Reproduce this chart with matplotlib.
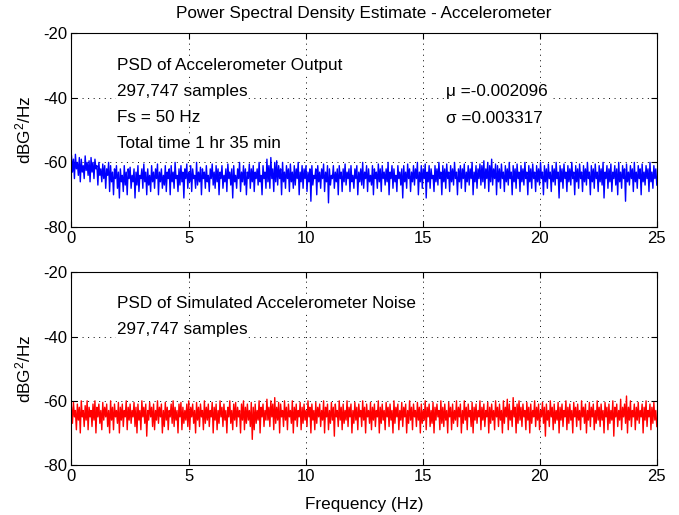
import numpy as np
import matplotlib
matplotlib.use("Agg")
import matplotlib.pyplot as plt

plt.rcParams['font.family'] = ['Liberation Sans', 'DejaVu Sans']
plt.rcParams['axes.unicode_minus'] = False
plt.rcParams['mathtext.fontset'] = 'custom'
plt.rcParams['mathtext.rm'] = 'Liberation Sans'
plt.rcParams['mathtext.it'] = 'Liberation Sans'
plt.rcParams['mathtext.bf'] = 'Liberation Sans'

# Data, dB values across 0-25 Hz
accel_psd = [
    -58, -63, -59, -65, -57.5, -62, -60, -64, -58.5, -66, -59, -63, -61, -65, -58, -62.5, -60, -64, -59.5, -66,
    -58.5, -63, -60, -65, -59, -62, -61, -67, -60, -64, -62, -66, -60.5, -65, -61, -68, -62, -64, -60, -69,
    -61, -66, -63, -70, -62, -65, -61, -68, -63, -71, -62, -66, -64, -69, -61, -67, -63, -70, -62, -65,
    -61.5, -68, -64, -66, -62, -71, -63, -67, -61, -69, -64, -65, -62, -68, -60.5, -66, -63, -70, -62, -67,
    -64, -69, -61, -66, -63, -68, -62, -65, -60.5, -70, -63, -66, -62, -68, -64, -67, -61, -69, -63, -65,
    -62, -70, -61, -66, -63, -68, -60, -65, -64, -69, -62, -67, -61, -66, -63, -71, -62, -65, -60.5, -68,
    -63, -66, -61, -69, -62, -65, -64, -68, -60, -67, -63, -66, -61.5, -70, -62, -65, -63, -68, -61, -66,
    -64, -69, -62, -65, -60.5, -67, -63, -68, -61, -66, -62, -70, -63, -65, -61, -68, -64, -66, -62, -69,
    -60.5, -65, -63, -67, -62, -71, -61, -66, -64, -68, -62, -65, -60, -69, -63, -66, -61, -67, -62, -70,
    -63, -65, -60.5, -68, -62, -66, -61, -69, -63, -65, -62, -67, -60, -66, -64, -70, -61, -65, -63, -68,
    -59, -66, -61, -68, -58.5, -65, -62, -69, -60, -66, -59.5, -67, -61, -65, -62, -70, -60, -66, -63, -68,
    -61, -65, -62, -69, -60.5, -66, -63, -68, -61, -67, -62, -65, -60, -70, -63, -66, -61, -68, -62, -65,
    -61, -69, -63, -66, -62, -72, -61, -67, -64, -65, -62, -70, -61, -66, -63, -68, -62, -65, -60.5, -69,
    -63, -66, -61, -72.5, -62, -67, -64, -65, -61, -68, -63, -66, -62, -70, -61, -65, -63, -69, -62, -66,
    -60.5, -67, -63, -65, -62, -69, -61, -66, -64, -68, -62, -65, -61, -70, -63, -66, -62, -67, -60, -68,
    -63, -65, -61, -69, -62, -66, -64, -67, -61, -70, -62, -65, -63, -68, -60.5, -66, -62, -69, -61, -65,
    -63, -67, -62, -66, -60, -70, -63, -65, -61, -68, -62, -66, -64, -69, -61, -65, -63, -67, -62, -71,
    -61, -66, -63, -68, -60.5, -65, -62, -69, -63, -66, -61, -67, -62, -65, -60, -70, -63, -66, -61, -68,
    -62, -65, -60.5, -71, -63, -66, -61, -68, -62, -65, -64, -69, -61, -66, -62, -67, -60, -65, -63, -70,
    -61, -66, -62, -68, -60.5, -65, -63, -69, -61, -66, -62, -67, -60, -65, -63, -70, -62, -66, -61, -68,
    -62, -65, -60.5, -69, -63, -66, -61, -67, -62, -65, -60, -70, -63, -66, -61, -68, -62, -65, -60.5, -67,
    -61, -66, -59.5, -68, -62, -65, -60, -69, -61, -66, -59, -67, -62, -65, -60.5, -70, -61, -66, -62, -68,
    -60.5, -65, -63, -69, -61, -66, -62, -67, -60, -65, -63, -70, -61, -66, -62, -68, -60.5, -65, -63, -69,
    -61, -66, -62, -67, -60, -65, -63, -70, -61, -66, -62, -68, -60.5, -65, -63, -69, -61, -66, -62, -67,
    -60, -65, -63, -70, -61, -66, -62, -68, -60.5, -65, -63, -69, -61, -66, -62, -67, -60, -65, -63, -71,
    -61, -66, -62, -68, -60.5, -65, -63, -69, -61, -66, -62, -67, -60, -65, -63, -70, -61, -66, -62, -68,
    -60.5, -65, -63, -69, -61, -66, -62, -67, -60, -65, -63, -70, -61, -66, -62, -68, -60.5, -65, -63, -69,
    -61, -66, -62, -67, -60, -71, -63, -65, -61, -68, -62, -66, -60.5, -69, -63, -65, -61, -67, -62, -70,
    -60, -66, -63, -68, -61, -65, -62, -72, -60.5, -66, -63, -67, -61, -65, -62, -69, -60, -66, -63, -68,
    -61, -65, -62, -70, -60.5, -66, -63, -67, -61, -65, -62, -69, -60, -66, -63, -68, -61, -65, -62, -67,
]

noise_psd = [
    -62, -67, -60.5, -65, -63, -69, -61, -66, -62, -70, -60, -65, -63, -68, -61.5, -66, -60, -69, -62, -65,
    -63, -68, -61, -66, -60, -70, -62, -65, -61, -67, -63, -69, -60.5, -66, -62, -65, -61, -68, -63, -70,
    -60, -66, -62, -69, -61, -65, -63, -67, -60.5, -70, -62, -66, -61, -68, -63, -65, -60, -69, -62, -66,
    -61, -67, -63, -65, -60.5, -68, -62, -70, -61, -66, -63, -69, -60, -65, -62, -67, -61, -71, -63, -66,
    -60.5, -65, -62, -68, -61, -69, -63, -66, -60, -67, -62, -65, -61, -70, -63, -68, -60.5, -66, -62, -69,
    -63, -65, -61, -67, -60, -68, -62, -66, -63, -70, -61, -65, -60.5, -69, -62, -67, -63, -66, -61, -68,
    -60, -69, -62, -65, -61, -67, -63, -70, -60.5, -66, -62, -68, -61, -65, -63, -69, -60, -67, -62, -66,
    -61, -68, -63, -65, -60.5, -70, -62, -66, -61, -69, -63, -67, -60, -65, -62, -68, -61, -66, -63, -70,
    -62, -65, -60, -67, -63, -69, -61, -66, -60.5, -68, -62, -65, -63, -70, -61, -66, -60, -69, -62, -67,
    -61, -66, -63, -68, -60.5, -72, -62, -69, -61, -67, -63, -66, -60, -70, -62, -65, -61, -68, -63, -66,
    -59.5, -66, -62, -68, -60, -65, -61, -69, -59, -67, -62, -66, -60.5, -70, -61, -65, -63, -68, -60, -66,
    -62, -69, -61, -65, -63, -67, -60, -70, -62, -66, -61, -68, -63, -65, -60.5, -69, -62, -67, -61, -66,
    -63, -68, -60, -65, -62, -70, -61, -66, -63, -69, -60.5, -67, -62, -65, -61, -68, -63, -66, -60, -70,
    -62, -65, -61, -69, -63, -67, -60.5, -66, -62, -71, -61, -65, -63, -68, -60, -66, -62, -69, -61, -67,
    -63, -66, -60, -68, -62, -65, -61, -70, -63, -67, -60.5, -66, -62, -69, -61, -65, -63, -68, -60, -66,
    -62, -70, -61, -65, -63, -67, -60.5, -69, -62, -66, -61, -68, -63, -65, -60, -70, -62, -67, -61, -66,
    -63, -69, -60.5, -65, -62, -68, -61, -66, -63, -70, -60, -67, -62, -65, -61, -69, -63, -66, -60.5, -68,
    -62, -65, -61, -70, -63, -67, -60, -66, -62, -69, -61, -65, -63, -68, -60.5, -66, -62, -70, -61, -67,
    -63, -66, -60, -69, -62, -65, -61, -68, -63, -67, -60.5, -70, -62, -66, -61, -65, -63, -69, -60, -67,
    -62, -68, -61, -66, -63, -70, -60.5, -65, -62, -69, -61, -67, -63, -66, -60, -68, -62, -65, -61, -70,
    -63, -67, -60, -66, -62, -69, -61, -65, -63, -68, -60.5, -70, -62, -66, -61, -67, -63, -65, -60, -69,
    -62, -66, -61, -68, -63, -65, -60.5, -70, -62, -67, -61, -66, -63, -69, -60, -65, -62, -68, -61, -66,
    -63, -70, -60, -67, -62, -65, -59.5, -69, -61, -66, -63, -68, -59, -65, -62, -70, -61, -67, -60, -66,
    -62, -68, -61, -65, -63, -69, -60.5, -66, -62, -70, -61, -67, -63, -65, -60, -68, -62, -66, -61, -69,
    -63, -65, -60.5, -67, -62, -71, -61, -66, -63, -68, -60, -65, -62, -69, -61, -67, -63, -66, -60.5, -70,
    -62, -66, -61, -68, -63, -65, -60, -69, -62, -67, -61, -66, -63, -70, -60.5, -65, -62, -68, -61, -66,
    -63, -69, -60, -65, -62, -67, -61, -70, -63, -66, -60.5, -68, -62, -65, -61, -69, -63, -67, -60, -66,
    -62, -68, -61, -66, -63, -70, -60.5, -65, -62, -69, -61, -67, -63, -66, -60, -71, -62, -65, -61, -68,
    -63, -66, -59.5, -69, -62, -65, -61, -67, -58.5, -70, -62, -66, -60, -68, -63, -65, -61, -69, -62, -66,
    -60.5, -67, -63, -65, -61, -70, -62, -66, -60, -68, -63, -65, -61, -69, -62, -67, -60.5, -66, -63, -68,
]

freq_max = 25
x_ticks = [0, 5, 10, 15, 20, 25]
y_ticks = [-80, -60, -40, -20]

title = "Power Spectral Density Estimate - Accelerometer"
ylabel = "dBG$^2$/Hz"
xlabel = "Frequency (Hz)"
top_texts = ["PSD of Accelerometer Output", "297,747 samples", "Fs = 50 Hz", "Total time 1 hr 35 min"]
stat_texts = ["\u03bc =-0.002096", "\u03c3 =0.003317"]
bottom_texts = ["PSD of Simulated Accelerometer Noise", "297,747 samples"]

fig = plt.figure(figsize=(6.79, 5.15), dpi=100)
ax1 = fig.add_axes([0.1053, 0.559, 0.862, 0.377])
ax2 = fig.add_axes([0.1053, 0.097, 0.862, 0.374])

fs = 12.3
for ax, data, color in [(ax1, accel_psd, (0, 0, 1)), (ax2, noise_psd, (1, 0, 0))]:
    f = np.linspace(0, freq_max, len(data))
    ax.plot(f, data, color=color, linewidth=1.0)
    ax.set_xlim(0, freq_max)
    ax.set_ylim(-80, -20)
    ax.set_xticks(x_ticks)
    ax.set_yticks(y_ticks)
    ax.tick_params(direction='in', top=True, right=True, labelsize=12, length=4, pad=3)
    ax.grid(True, color='black', linestyle=(0, (1, 4.7)), linewidth=0.7)
    ax.set_ylabel(ylabel, fontsize=fs, labelpad=7)
    for s in ax.spines.values():
        s.set_linewidth(0.8)

ax1.set_title(title, fontsize=fs, pad=11)
ax2.set_xlabel(xlabel, fontsize=fs, labelpad=9)

for i, t in enumerate(top_texts):
    ax1.text(1.95, -30 - 8.1 * i, t, fontsize=fs, va='center', ha='left',
             bbox=dict(facecolor='white', edgecolor='none', pad=0.5))
for i, t in enumerate(stat_texts):
    ax1.text(16.0, -38.1 - 8.2 * i, t, fontsize=fs, va='center', ha='left',
             bbox=dict(facecolor='white', edgecolor='none', pad=0.5))
for i, t in enumerate(bottom_texts):
    ax2.text(1.95, -29.6 - 8.3 * i, t, fontsize=fs, va='center', ha='left',
             bbox=dict(facecolor='white', edgecolor='none', pad=0.5))

fig.savefig("out.png", dpi=100)
